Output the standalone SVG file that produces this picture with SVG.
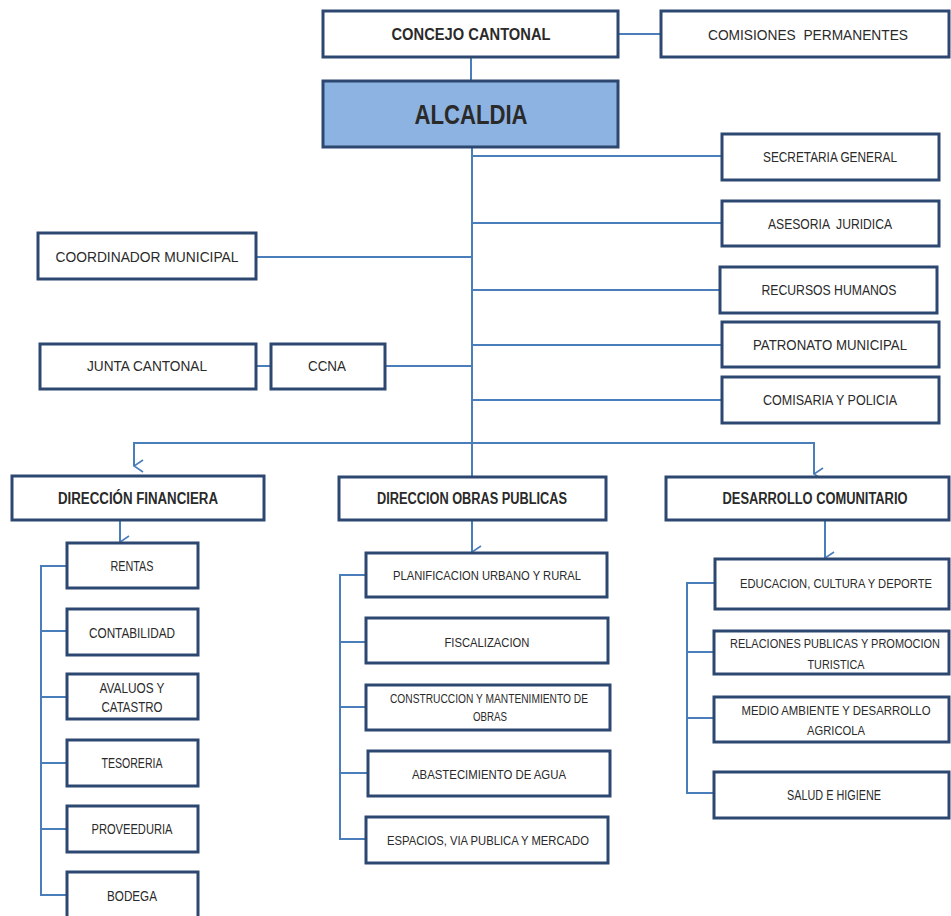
<svg xmlns="http://www.w3.org/2000/svg" width="951" height="916" viewBox="0 0 951 916">
<defs>
<style>
.box{fill:#ffffff;stroke:#2c4770;stroke-width:3}
.main{fill:#8db3e2;stroke:#2c4770;stroke-width:3}
.ln{fill:none;stroke:#4a7ebb;stroke-width:2}
text{font-family:"Liberation Sans",Arial,sans-serif;fill:#2a2a2a;text-anchor:middle;dominant-baseline:central;font-size:14px}
.b{font-weight:bold;font-size:17px}
.s{font-size:13px}
.t{font-size:12px}
</style>
<marker id="arr" viewBox="0 0 14 14" refX="7" refY="13" markerWidth="14" markerHeight="14" markerUnits="userSpaceOnUse" orient="auto-start-reverse">
<polyline points="1,4 7,13 13,4" fill="none" stroke="#4a7ebb" stroke-width="1.6"/>
</marker>
</defs>
<rect width="951" height="916" fill="#ffffff"/>
<g id="connectors">
<line class="ln" x1="618" y1="34" x2="661" y2="34"/>
<line class="ln" x1="471" y1="57" x2="471" y2="81"/>
<line class="ln" x1="472" y1="147" x2="472" y2="476"/>
<line class="ln" x1="472" y1="156" x2="722" y2="156"/>
<line class="ln" x1="472" y1="223" x2="722" y2="223"/>
<line class="ln" x1="256" y1="257" x2="472" y2="257"/>
<line class="ln" x1="472" y1="290" x2="720" y2="290"/>
<line class="ln" x1="472" y1="345" x2="722" y2="345"/>
<line class="ln" x1="256" y1="366" x2="271" y2="366"/>
<line class="ln" x1="385" y1="366" x2="472" y2="366"/>
<line class="ln" x1="472" y1="400" x2="722" y2="400"/>
<path class="ln" d="M134,466 V443 H814 V474" marker-start="url(#arr)" marker-end="url(#arr)"/>
<line class="ln" x1="120" y1="520" x2="120" y2="542" marker-end="url(#arr)"/>
<line class="ln" x1="472" y1="520" x2="472" y2="552" marker-end="url(#arr)"/>
<line class="ln" x1="825" y1="520" x2="825" y2="558" marker-end="url(#arr)"/>
<path class="ln" d="M67,566 H41 V895 H67 M41,631 H67 M41,697 H67 M41,763 H67 M41,829 H67"/>
<path class="ln" d="M366,575 H340 V839 H366 M340,642 H366 M340,707 H366 M340,773 H368"/>
<path class="ln" d="M715,583 H687 V793 H714 M687,652 H714 M687,718 H714"/>
</g>
<g id="concejo"><rect class="box" x="323" y="11" width="295" height="46"/><text class="b" x="471" y="34" textLength="159" lengthAdjust="spacingAndGlyphs">CONCEJO CANTONAL</text></g>
<g id="comisiones"><rect class="box" x="661" y="11" width="288" height="46"/><text x="808" y="35" textLength="200" lengthAdjust="spacingAndGlyphs" xml:space="preserve">COMISIONES  PERMANENTES</text></g>
<g id="alcaldia"><rect class="main" x="323" y="81" width="295" height="66"/><text x="471" y="114" style="font-size:28px;font-weight:bold" textLength="113" lengthAdjust="spacingAndGlyphs">ALCALDIA</text></g>
<g id="secretaria"><rect class="box" x="722" y="134" width="217" height="46"/><text x="830" y="157" textLength="134" lengthAdjust="spacingAndGlyphs">SECRETARIA GENERAL</text></g>
<g id="asesoria"><rect class="box" x="722" y="201" width="217" height="45"/><text x="830" y="224" textLength="124" lengthAdjust="spacingAndGlyphs" xml:space="preserve">ASESORIA  JURIDICA</text></g>
<g id="coordinador"><rect class="box" x="38" y="233" width="218" height="46"/><text x="147" y="257" textLength="183" lengthAdjust="spacingAndGlyphs">COORDINADOR MUNICIPAL</text></g>
<g id="recursos"><rect class="box" x="720" y="267" width="217" height="46"/><text x="829" y="290" textLength="135" lengthAdjust="spacingAndGlyphs">RECURSOS HUMANOS</text></g>
<g id="patronato"><rect class="box" x="722" y="322" width="217" height="45"/><text x="830" y="345" textLength="154" lengthAdjust="spacingAndGlyphs">PATRONATO MUNICIPAL</text></g>
<g id="junta"><rect class="box" x="40" y="344" width="216" height="45"/><text x="147" y="366" textLength="120" lengthAdjust="spacingAndGlyphs">JUNTA CANTONAL</text></g>
<g id="ccna"><rect class="box" x="271" y="344" width="114" height="45"/><text x="327" y="366" textLength="38" lengthAdjust="spacingAndGlyphs">CCNA</text></g>
<g id="comisaria"><rect class="box" x="722" y="377" width="217" height="46"/><text x="830" y="400" textLength="134" lengthAdjust="spacingAndGlyphs">COMISARIA Y POLICIA</text></g>
<g id="dir-financiera"><rect class="box" x="12" y="476" width="252" height="44"/><text class="b" style="font-size:16px" x="138" y="498" textLength="160" lengthAdjust="spacingAndGlyphs">DIRECCIÓN FINANCIERA</text></g>
<g id="dir-obras"><rect class="box" x="339" y="477" width="267" height="43"/><text class="b" style="font-size:16px" x="472" y="498" textLength="190" lengthAdjust="spacingAndGlyphs">DIRECCION OBRAS PUBLICAS</text></g>
<g id="desarrollo"><rect class="box" x="666" y="477" width="283" height="43"/><text class="b" style="font-size:16px" x="815" y="498" textLength="185" lengthAdjust="spacingAndGlyphs">DESARROLLO COMUNITARIO</text></g>
<g id="rentas"><rect class="box" x="67" y="543" width="131" height="45"/><text x="132" y="566" textLength="43" lengthAdjust="spacingAndGlyphs">RENTAS</text></g>
<g id="contabilidad"><rect class="box" x="67" y="609" width="131" height="46"/><text x="132" y="633" textLength="86" lengthAdjust="spacingAndGlyphs">CONTABILIDAD</text></g>
<g id="avaluos"><rect class="box" x="67" y="674" width="131" height="45"/><text x="132" y="688" textLength="65" lengthAdjust="spacingAndGlyphs">AVALUOS Y</text><text x="132" y="707" textLength="61" lengthAdjust="spacingAndGlyphs">CATASTRO</text></g>
<g id="tesoreria"><rect class="box" x="67" y="740" width="131" height="46"/><text x="132" y="763" textLength="61" lengthAdjust="spacingAndGlyphs">TESORERIA</text></g>
<g id="proveeduria"><rect class="box" x="67" y="806" width="131" height="46"/><text x="132" y="829" textLength="81" lengthAdjust="spacingAndGlyphs">PROVEEDURIA</text></g>
<g id="bodega"><rect class="box" x="67" y="872" width="131" height="46"/><text x="132" y="896" textLength="50" lengthAdjust="spacingAndGlyphs">BODEGA</text></g>
<g id="planificacion"><rect class="box" x="366" y="553" width="241" height="44"/><text class="s" x="487" y="575" textLength="188" lengthAdjust="spacingAndGlyphs">PLANIFICACION URBANO Y RURAL</text></g>
<g id="fiscalizacion"><rect class="box" x="366" y="618" width="242" height="45"/><text class="s" x="487" y="642" textLength="85" lengthAdjust="spacingAndGlyphs">FISCALIZACION</text></g>
<g id="construccion"><rect class="box" x="366" y="685" width="244" height="45"/><text style="font-size:12px" x="489" y="699" textLength="198" lengthAdjust="spacingAndGlyphs">CONSTRUCCION Y MANTENIMIENTO DE</text><text style="font-size:12px" x="490" y="717" textLength="34" lengthAdjust="spacingAndGlyphs">OBRAS</text></g>
<g id="abastecimiento"><rect class="box" x="368" y="751" width="242" height="45"/><text class="s" x="489" y="774" textLength="154" lengthAdjust="spacingAndGlyphs">ABASTECIMIENTO DE AGUA</text></g>
<g id="espacios"><rect class="box" x="366" y="817" width="242" height="46"/><text class="s" x="488" y="840" textLength="202" lengthAdjust="spacingAndGlyphs">ESPACIOS, VIA PUBLICA Y MERCADO</text></g>
<g id="educacion"><rect class="box" x="715" y="559" width="234" height="50"/><text class="s" x="836" y="583" textLength="192" lengthAdjust="spacingAndGlyphs">EDUCACION, CULTURA Y DEPORTE</text></g>
<g id="relaciones"><rect class="box" x="714" y="631" width="235" height="43"/><text class="t" x="835" y="644" textLength="210" lengthAdjust="spacingAndGlyphs">RELACIONES PUBLICAS Y PROMOCION</text><text class="s" x="836" y="664" textLength="57" lengthAdjust="spacingAndGlyphs">TURISTICA</text></g>
<g id="medio"><rect class="box" x="714" y="697" width="235" height="45"/><text class="s" x="836" y="710" textLength="189" lengthAdjust="spacingAndGlyphs">MEDIO AMBIENTE Y DESARROLLO</text><text class="s" x="836" y="730" textLength="58" lengthAdjust="spacingAndGlyphs">AGRICOLA</text></g>
<g id="salud"><rect class="box" x="714" y="772" width="235" height="46"/><text x="834" y="795" textLength="94" lengthAdjust="spacingAndGlyphs">SALUD E HIGIENE</text></g>
</svg>
